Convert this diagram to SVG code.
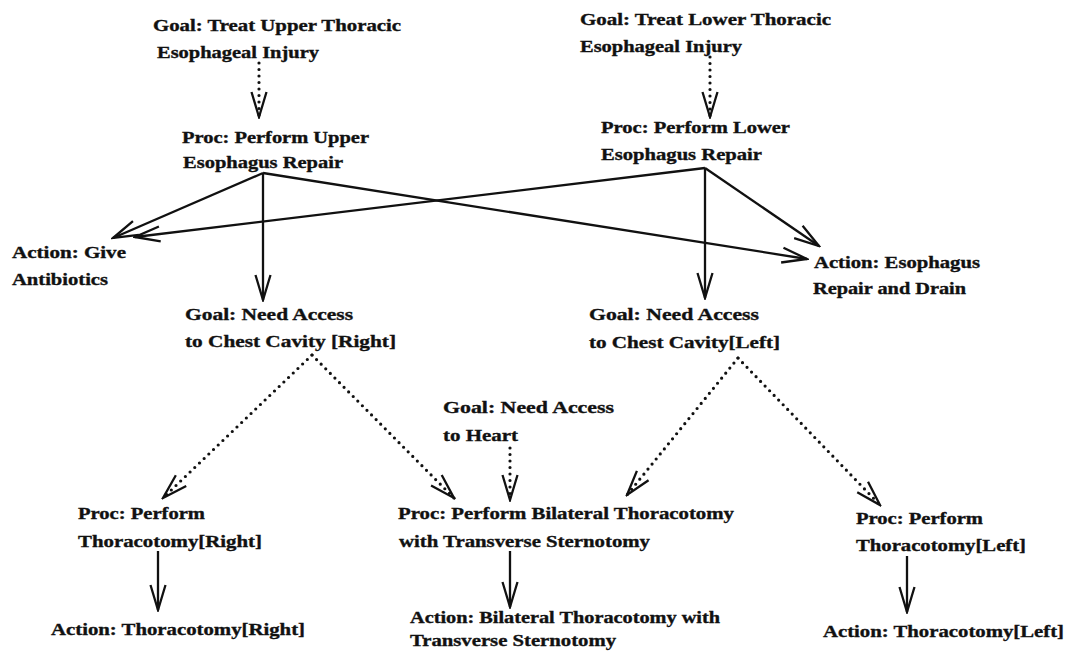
<svg xmlns="http://www.w3.org/2000/svg" width="1067" height="651" viewBox="0 0 1067 651">
<style>
text{font-family:'Liberation Serif','Times New Roman',serif;font-weight:700;font-size:17px;fill:#111;stroke:#111;stroke-width:0.35}
.s{fill:none;stroke:#111;stroke-width:2.3}
.d{fill:none;stroke:#111;stroke-width:3.2;stroke-dasharray:0 6.5;stroke-linecap:round}
</style>
<defs>
<marker id="v" markerUnits="userSpaceOnUse" markerWidth="28" markerHeight="18" viewBox="0 0 28 18" refX="26" refY="9" orient="auto">
<path d="M1,1.5 L26,9 L1,16.5" fill="none" stroke="#111" stroke-width="2.3" stroke-dasharray="none"/>
</marker>
</defs>
<rect width="1067" height="651" fill="#fff"/>
<g id="connectors">
<line class="s" x1="263" y1="173" x2="113" y2="238" marker-end="url(#v)"/>
<line class="s" x1="263" y1="173" x2="263" y2="300" marker-end="url(#v)"/>
<line class="s" x1="263" y1="173" x2="807" y2="259" marker-end="url(#v)"/>
<line class="s" x1="705" y1="168" x2="135" y2="237" marker-end="url(#v)"/>
<line class="s" x1="705" y1="168" x2="705" y2="298" marker-end="url(#v)"/>
<line class="s" x1="705" y1="168" x2="819" y2="246" marker-end="url(#v)"/>
<line class="s" x1="158" y1="551" x2="158" y2="610" marker-end="url(#v)"/>
<line class="s" x1="510" y1="551" x2="510" y2="607" marker-end="url(#v)"/>
<line class="s" x1="907" y1="556" x2="907" y2="612" marker-end="url(#v)"/>
<line class="d" x1="259" y1="63" x2="259" y2="117" marker-end="url(#v)"/>
<line class="d" x1="710" y1="57" x2="710" y2="117" marker-end="url(#v)"/>
<line class="d" x1="312" y1="355" x2="163" y2="498" marker-end="url(#v)"/>
<line class="d" x1="312" y1="355" x2="454" y2="498" marker-end="url(#v)"/>
<line class="d" x1="510" y1="448" x2="510" y2="500" marker-end="url(#v)"/>
<line class="d" x1="738" y1="358" x2="627" y2="495" marker-end="url(#v)"/>
<line class="d" x1="738" y1="358" x2="880" y2="505" marker-end="url(#v)"/>
</g>
<g id="goal-upper">
<text x="153" y="31" textLength="248" lengthAdjust="spacingAndGlyphs">Goal: Treat Upper Thoracic</text>
<text x="157" y="58" textLength="162" lengthAdjust="spacingAndGlyphs">Esophageal Injury</text>
</g>
<g id="proc-upper">
<text x="182" y="143" textLength="187" lengthAdjust="spacingAndGlyphs">Proc: Perform Upper</text>
<text x="183" y="168" textLength="160" lengthAdjust="spacingAndGlyphs">Esophagus Repair</text>
</g>
<g id="goal-lower">
<text x="580" y="25" textLength="251" lengthAdjust="spacingAndGlyphs">Goal: Treat Lower Thoracic</text>
<text x="580" y="52" textLength="162" lengthAdjust="spacingAndGlyphs">Esophageal Injury</text>
</g>
<g id="proc-lower">
<text x="601" y="133" textLength="189" lengthAdjust="spacingAndGlyphs">Proc: Perform Lower</text>
<text x="601" y="160" textLength="161" lengthAdjust="spacingAndGlyphs">Esophagus Repair</text>
</g>
<g id="action-antibiotics">
<text x="12" y="258" textLength="114" lengthAdjust="spacingAndGlyphs">Action: Give</text>
<text x="12" y="285" textLength="96" lengthAdjust="spacingAndGlyphs">Antibiotics</text>
</g>
<g id="goal-chest-right">
<text x="185" y="320" textLength="168" lengthAdjust="spacingAndGlyphs">Goal: Need Access</text>
<text x="185" y="347" textLength="211" lengthAdjust="spacingAndGlyphs">to Chest Cavity [Right]</text>
</g>
<g id="action-esophagus">
<text x="814" y="268" textLength="166" lengthAdjust="spacingAndGlyphs">Action: Esophagus</text>
<text x="813" y="294" textLength="153" lengthAdjust="spacingAndGlyphs">Repair and Drain</text>
</g>
<g id="goal-chest-left">
<text x="589" y="320" textLength="170" lengthAdjust="spacingAndGlyphs">Goal: Need Access</text>
<text x="589" y="348" textLength="191" lengthAdjust="spacingAndGlyphs">to Chest Cavity[Left]</text>
</g>
<g id="goal-heart">
<text x="443" y="413" textLength="171" lengthAdjust="spacingAndGlyphs">Goal: Need Access</text>
<text x="443" y="441" textLength="75" lengthAdjust="spacingAndGlyphs">to Heart</text>
</g>
<g id="proc-thoracotomy-right">
<text x="78" y="519" textLength="127" lengthAdjust="spacingAndGlyphs">Proc: Perform</text>
<text x="78" y="547" textLength="184" lengthAdjust="spacingAndGlyphs">Thoracotomy[Right]</text>
</g>
<g id="proc-bilateral">
<text x="398" y="519" textLength="336" lengthAdjust="spacingAndGlyphs">Proc: Perform Bilateral Thoracotomy</text>
<text x="399" y="547" textLength="251" lengthAdjust="spacingAndGlyphs">with Transverse Sternotomy</text>
</g>
<g id="proc-thoracotomy-left">
<text x="856" y="524" textLength="127" lengthAdjust="spacingAndGlyphs">Proc: Perform</text>
<text x="856" y="551" textLength="170" lengthAdjust="spacingAndGlyphs">Thoracotomy[Left]</text>
</g>
<g id="action-thoracotomy-right">
<text x="51" y="635" textLength="254" lengthAdjust="spacingAndGlyphs">Action: Thoracotomy[Right]</text>
</g>
<g id="action-bilateral">
<text x="410" y="623" textLength="310" lengthAdjust="spacingAndGlyphs">Action: Bilateral Thoracotomy with</text>
<text x="410" y="646" textLength="206" lengthAdjust="spacingAndGlyphs">Transverse Sternotomy</text>
</g>
<g id="action-thoracotomy-left">
<text x="823" y="637" textLength="241" lengthAdjust="spacingAndGlyphs">Action: Thoracotomy[Left]</text>
</g>
</svg>
